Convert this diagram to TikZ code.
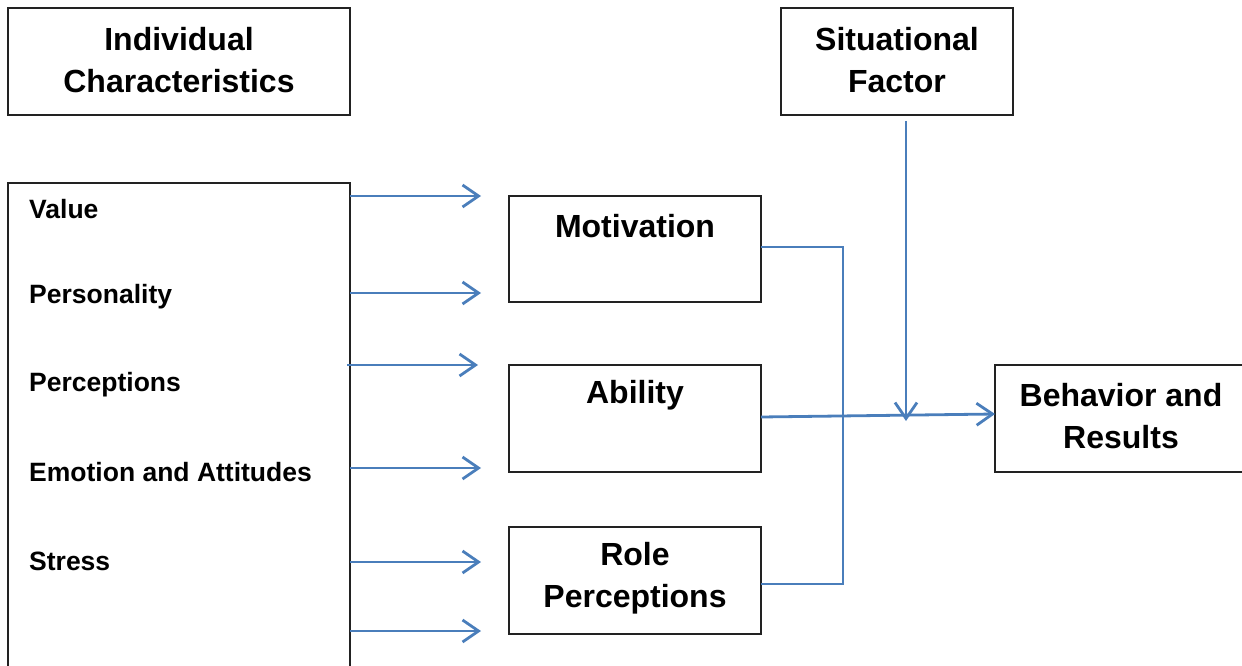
\documentclass[tikz,border=0pt]{standalone}
\usepackage{fontspec}
\setmainfont{Liberation Sans}
\usetikzlibrary{arrows.meta}
\definecolor{lineblue}{HTML}{4A7EBB}
\definecolor{boxline}{HTML}{222222}
\tikzset{
  box/.style={draw=boxline, line width=1.4pt, fill=white},
  big/.style={font=\fontsize{32}{42}\selectfont\bfseries, align=center, inner sep=0pt},
  small/.style={font=\fontsize{26.5}{30}\selectfont\bfseries, anchor=west, inner sep=0pt},
  conn/.style={draw=lineblue, line width=2.8pt},
  arr/.style={conn, -{Straight Barb[length=16pt, width=22pt, line width=2.8pt]}},
}
\begin{document}
\begin{tikzpicture}[x=1pt, y=-1pt]
\useasboundingbox (0,0) rectangle (1242,666);
% boxes
\draw[box] (8,8) rectangle (350,115);
\draw[box] (781,8) rectangle (1013,115);
\draw[box] (8,183) rectangle (350,690);
\draw[box] (509,196) rectangle (761,302);
\draw[box] (509,365) rectangle (761,472);
\draw[box] (509,527) rectangle (761,634);
\draw[box] (995,365) rectangle (1260,472);
% texts
\node[big] (ic) at (179,60) {Individual\\Characteristics};
\node[big] (sf) at (897,60) {Situational\\Factor};
\node[big] (mo) at (635,226) {Motivation};
\node[big] (ab) at (635,395) {Ability};
\node[big] (rp) at (635,578) {Role\\Perceptions};
\node[big] (br) at (1121,416) {Behavior and\\Results};
\node[small] (v) at (29,209) {Value};
\node[small] (p) at (29,297) {Personality};
\node[small] (pc) at (29,385) {Perceptions};
\node[small] (ea) at (29,472) {Emotion and Attitudes};
\node[small] (s) at (29,561) {Stress};
% anchor coordinates
\coordinate (l1) at (350,196); \coordinate (r1) at (481,196);
\coordinate (l2) at (350,293); \coordinate (r2) at (481,293);
\coordinate (l3) at (347,365); \coordinate (r3) at (478,365);
\coordinate (l4) at (350,468); \coordinate (r4) at (481,468);
\coordinate (l5) at (350,562); \coordinate (r5) at (481,562);
\coordinate (l6) at (350,631); \coordinate (r6) at (481,631);
\draw[arr] (l1) -- (r1);
\draw[arr] (l2) -- (r2);
\draw[arr] (l3) -- (r3);
\draw[arr] (l4) -- (r4);
\draw[arr] (l5) -- (r5);
\draw[arr] (l6) -- (r6);
% right connectors
\coordinate (mo-e) at (761,247);
\coordinate (rp-e) at (761,584);
\coordinate (ab-e) at (761,417);
\coordinate (br-w) at (995,414);
\coordinate (sf-s) at (906,121);
\coordinate (jn) at (906,421);
\draw[conn] (mo-e) -- (843,247) -- (843,584) -- (rp-e);
\draw[arr] (ab-e) -- (br-w);
\draw[arr] (sf-s) -- (jn);
\end{tikzpicture}
\end{document}
